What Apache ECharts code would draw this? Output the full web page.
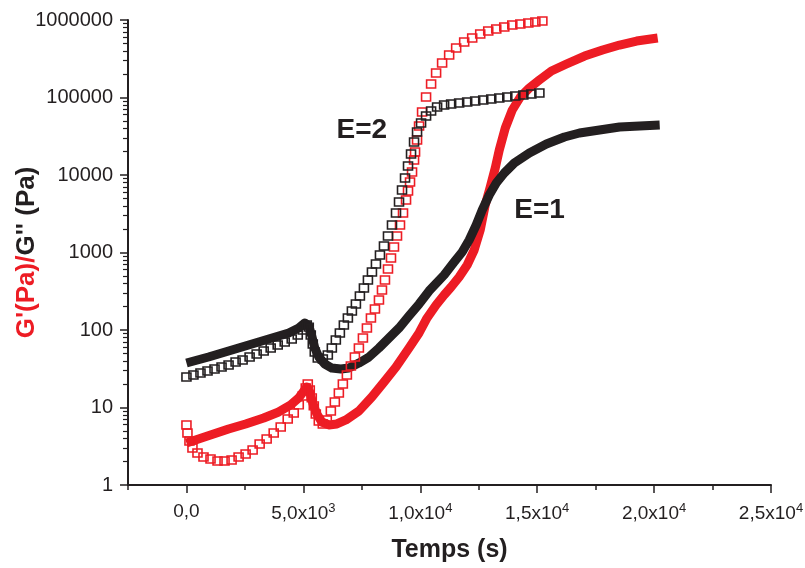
<!DOCTYPE html>
<html>
<head>
<meta charset="utf-8">
<script src="https://cdn.jsdelivr.net/npm/echarts@6/dist/echarts.min.js"></script>
<style>
html,body{margin:0;padding:0;background:#fff;}
#chart{width:805px;height:568px;}
</style>
</head>
<body>
<div id="chart"></div>
<script>
// ---- Data (time in s, modulus in Pa) ----
// E=2, G' (open red squares)
const tE2R = [0,43,129,257,472,729,1029,1329,1629,1930,2230,2530,2830,3130,3430,3731,4031,4331,4588,4803,4974,5103,5188,5274,5360,5446,5532,5660,5832,6003,6175,6346,6518,6689,6861,7032,7204,7375,7547,7718,7890,8061,8233,8362,8490,8619,8748,8876,9005,9133,9262,9391,9476,9562,9648,9734,9777,9862,9948,10077,10248,10463,10677,10934,11235,11535,11878,12221,12564,12907,13250,13593,13936,14279,14622,14922,15222];
const vE2R = [5.95,4.69,3.70,3.00,2.59,2.30,2.17,2.04,2.04,2.10,2.30,2.51,2.83,3.38,3.92,4.69,5.60,7.11,8.49,10.8,14.1,17.9,20.1,16.8,13.3,10.5,8.25,6.70,6.13,6.90,9.01,11.8,15.4,20.1,26.3,34.3,44.8,58.6,78.8,106,143,187,244,328,442,612,849,1178,1633,2264,3233,4758,6217,8122,10930,15610,19810,28290,42870,65000,101500,149400,207200,278800,353500,435300,520000,586000,659700,721600,765600,812000,861500,887400,914000,942000,970700];
// E=2, G'' (open black squares)
const tE2B = [0,300,600,901,1201,1501,1801,2101,2401,2701,3002,3302,3602,3902,4202,4502,4760,4974,5146,5231,5317,5403,5488,5617,5832,6046,6218,6389,6561,6732,6904,7075,7247,7418,7590,7761,7933,8104,8276,8447,8619,8790,8962,9091,9219,9348,9476,9605,9734,9862,10034,10248,10463,10720,11020,11320,11663,12006,12349,12693,13036,13379,13722,14065,14408,14751,15094];
const vE2B = [24.7,26.3,27.9,29.6,31.4,33.3,35.3,38.6,41.0,44.8,49.0,53.6,58.6,64.0,70.0,76.5,86.2,100,116,109,86.2,65.9,52.0,43.5,42.3,47.6,58.6,74.3,91.5,116,143,176,216,275,348,442,560,711,929,1213,1633,2264,3233,4485,6400,9140,13060,18660,26650,35880,46880,57700,66950,75400,80000,82500,84900,87500,90100,92900,95700,98500,101500,104500,107700,111000,114300];
// E=1, G' (filled red)
const tE1R = [0,515,1158,1801,2530,3302,3945,4460,4803,5017,5146,5274,5403,5574,5789,6089,6432,6818,7375,7933,8447,8962,9519,9948,10291,10677,11020,11320,11663,12006,12306,12564,12778,12993,13207,13379,13636,13936,14279,14665,15094,15608,16252,17024,17796,18524,19253,20154];
const vE1R = [3.48,3.92,4.55,5.28,6.13,7.32,8.75,10.8,13.3,16.3,18.4,15.8,11.4,8.25,6.50,5.95,6.13,6.90,9.01,13.7,21.3,33.3,58.6,91.5,143,210,283,359,483,690,1077,1950,4100,7000,12310,21020,40400,69000,101500,132700,168200,219800,270600,343000,410000,475600,535700,586000];
// E=1, G'' (filled black)
const tE1B = [0,943,1801,2659,3516,4374,4803,5060,5231,5360,5488,5660,5917,6218,6603,6946,7375,7804,8233,8661,9090,9519,9948,10377,11020,11449,11792,12092,12392,12650,12950,13250,13593,14022,14665,15394,16166,16809,17667,18524,19382,20240];
const vE1B = [37.5,44.8,53.6,64.0,76.5,91.5,106,123,113,83.7,58.6,44.8,36.4,32.3,31.4,32.3,37.5,44.8,58.6,78.8,106,152,216,319,512,754,1015,1450,2264,3535,5520,7890,10610,14290,19230,25120,30900,34840,38100,41600,42870,44170];

// Axis ticks
const xMajorTicks = [0,5000,10000,15000,20000,25000];
const xMinorTicks = [-2500,2500,7500,12500,17500,22500];
const yMinorTicks = [];
[1,10,100,1000,10000,100000].forEach(d => { for (let k = 2; k <= 9; k++) yMinorTicks.push(d * k); });

// Annotations
const annoText = ['E=2','E=1'];
const annoT = [7500, 15100];
const annoV = [38000, 3500];

const RED = '#ed1c24', BLK = '#231f20';
const zip = (a, b) => a.map((x, i) => [x, b[i]]);

const xLabel = v => {
  if (v === 0) return '0,0';
  const e = Math.floor(Math.log10(v));
  const m = v / Math.pow(10, e);
  return m.toFixed(1).replace('.', ',') + 'x10{s|' + e + '}';
};

const chart = echarts.init(document.getElementById('chart'), null, {renderer: 'canvas'});
const FONT = 'Liberation Sans, Arial, sans-serif';
chart.setOption({
  backgroundColor: '#fff',
  animation: false,
  grid: {left: 128, right: 34, top: 20, bottom: 83, containLabel: false, outerBoundsMode: 'none'},
  xAxis: [{
    type: 'value', min: -2500, max: 25000,
    name: 'Temps (s)', nameLocation: 'middle', nameGap: 53, nameMoveOverlap: false,
    nameTextStyle: {fontFamily: FONT, fontWeight: 'bold', fontSize: 25, color: BLK},
    axisLine: {show: true, onZero: false, lineStyle: {color: BLK, width: 2}},
    axisTick: {show: true, inside: false, length: 8, customValues: xMajorTicks, lineStyle: {color: BLK, width: 1.5}},
    axisLabel: {show: true, customValues: xMajorTicks, margin: 17, formatter: xLabel,
      fontFamily: FONT, fontSize: 19, color: BLK, hideOverlap: false,
      rich: {s: {fontFamily: FONT, fontSize: 13, color: BLK, verticalAlign: 'top', padding: [0,0,10,0]}}},
    splitLine: {show: false}
  }, {
    type: 'value', min: -2500, max: 25000, position: 'bottom',
    axisLine: {show: false, onZero: false},
    axisTick: {show: true, inside: false, length: 5, customValues: xMinorTicks, lineStyle: {color: BLK, width: 1.5}},
    axisLabel: {show: false}, splitLine: {show: false}
  }],
  yAxis: [{
    type: 'log', logBase: 10, min: 1, max: 1000000,
    name: '{r|G\'(Pa)/}{k|G\'\' (Pa)}', nameLocation: 'middle', nameGap: 88, nameRotate: 90, nameMoveOverlap: false,
    nameTextStyle: {rich: {
      r: {fontFamily: FONT, fontWeight: 'bold', fontSize: 26, color: RED},
      k: {fontFamily: FONT, fontWeight: 'bold', fontSize: 26, color: BLK}
    }},
    axisLine: {show: true, onZero: false, lineStyle: {color: BLK, width: 2}},
    axisTick: {show: true, inside: false, length: 8, lineStyle: {color: BLK, width: 1.5}},
    axisLabel: {show: true, margin: 15, fontFamily: FONT, fontSize: 20, color: BLK, formatter: v => String(Math.round(v))},
    splitLine: {show: false}
  }, {
    type: 'log', logBase: 10, min: 1, max: 1000000, position: 'left',
    axisLine: {show: false, onZero: false},
    axisTick: {show: true, inside: false, length: 5, customValues: yMinorTicks, lineStyle: {color: BLK, width: 1.2}},
    axisLabel: {show: false}, splitLine: {show: false}
  }],
  series: [
    {type: 'line', name: 'E1 G\'', data: zip(tE1R, vE1R), showSymbol: false, symbol: 'none',
     lineStyle: {color: RED, width: 9, join: 'round'}, z: 2},
    {type: 'line', name: 'E1 G\'\'', data: zip(tE1B, vE1B), showSymbol: false, symbol: 'none',
     lineStyle: {color: BLK, width: 9, join: 'round'}, z: 2},
    {type: 'scatter', name: 'E2 G\'', data: zip(tE2R, vE2R), symbol: 'rect', symbolSize: [9, 8],
     itemStyle: {color: 'rgba(255,255,255,0)', borderColor: RED, borderWidth: 1.5, opacity: 1}, z: 3},
    {type: 'scatter', name: 'E2 G\'\'', data: zip(tE2B, vE2B), symbol: 'rect', symbolSize: [9, 8],
     itemStyle: {color: 'rgba(255,255,255,0)', borderColor: BLK, borderWidth: 1.5, opacity: 1}, z: 3},
    {type: 'scatter', name: 'labels', data: annoText.map((s, i) => ({name: s, value: [annoT[i], annoV[i]]})),
     symbolSize: 0, silent: true, itemStyle: {opacity: 1},
     label: {show: true, position: 'inside', formatter: p => p.name,
       fontFamily: FONT, fontWeight: 'bold', fontSize: 28, color: BLK}, z: 5}
  ]
});
</script>
</body>
</html>
